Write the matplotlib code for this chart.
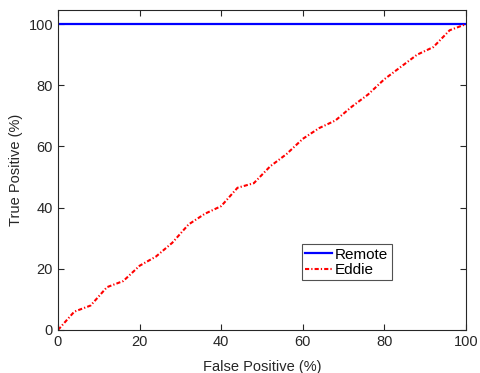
import matplotlib.pyplot as plt

plt.rcParams['font.family'] = ['Liberation Sans', 'DejaVu Sans']

# ROC data
fp = [0, 4, 8, 12, 16, 20, 24, 28, 32, 36, 40, 44, 48, 52, 56, 60, 64, 68, 72, 76, 80, 84, 88, 92, 96, 100]
eddie_tp = [0, 6, 8, 14, 16, 21, 24, 28.5, 34.5, 38, 40.5, 46.5, 48, 53.5, 57.5, 62.5, 66, 68.5, 73, 77, 82, 86,
            90, 92.5, 98, 100]
remote_fp = [0, 100]
remote_tp = [100, 100]

fig = plt.figure(figsize=(4.8, 3.73), dpi=100)
ax = fig.add_axes([0.1208, 0.1153, 0.85, 0.8577])

ax.plot(remote_fp, remote_tp, color='#0000ff', lw=1.6, label='Remote')
ax.plot(fp, eddie_tp, color='#ff0000', lw=1.5, ls=(0, (2, 1, 0.6, 1)), label='Eddie')

ax.set_xlim(0, 100)
ax.set_ylim(0, 104.6)
ax.set_xticks([0, 20, 40, 60, 80, 100])
ax.set_yticks([0, 20, 40, 60, 80, 100])
ax.tick_params(direction='in', top=True, right=True, labelsize=10.5, colors='#262626', length=4)
for s in ax.spines.values():
    s.set_color('#262626')
    s.set_linewidth(0.8)

ax.set_xlabel('False Positive (%)', fontsize=10.5, color='#262626', labelpad=8)
ax.set_ylabel('True Positive (%)', fontsize=10.5, color='#262626', labelpad=4)

leg = ax.legend(loc='lower left', bbox_to_anchor=(0.599, 0.156), fontsize=11, frameon=True, fancybox=False,
                edgecolor='#262626', handlelength=1.75, handletextpad=0.2, borderpad=0.2, labelspacing=0.1,
                borderaxespad=0)
leg.get_frame().set_linewidth(0.8)

fig.savefig('out.png', dpi=100)
